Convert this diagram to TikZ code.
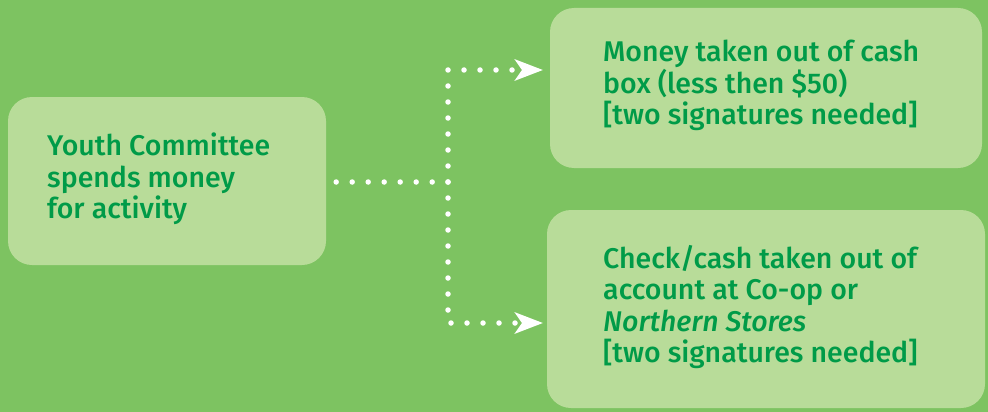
\documentclass[tikz,border=0pt]{standalone}
\usepackage{fontspec}
\setmainfont{Fira Sans}[UprightFont={* Medium}, ItalicFont={* Medium Italic}]
\usetikzlibrary{arrows.meta}
\definecolor{bggreen}{RGB}{125,195,97}
\definecolor{boxgreen}{RGB}{184,220,153}
\definecolor{txtgreen}{RGB}{0,155,72}
\tikzset{
  card/.style={fill=boxgreen, rounded corners=24pt, inner sep=0pt},
  label/.style={anchor=north west, inner sep=0pt, align=left, text=txtgreen,
    font=\fontsize{28.5}{31.5}\selectfont},
  dotline/.style={white, line width=5.5pt, line cap=round, dash pattern=on 0pt off 16pt},
  tip/.style={-{Stealth[length=28pt 0, width=21pt 0, inset=7pt 0]}},
}
\begin{document}
\begin{tikzpicture}[x=1pt,y=-1pt]
\fill[bggreen] (0,0) rectangle (988,412);
\useasboundingbox (0,0) rectangle (988,412);
% cards
\node[card, minimum width=318pt, minimum height=168pt] (box1) at (167,181) {};
\node[card, minimum width=432pt, minimum height=160pt] (box2) at (766,88) {};
\node[card, minimum width=438pt, minimum height=198pt] (box3) at (766,309) {};
% texts
\node[label] (t1) at (47,133) {Youth Committee\\spends money\\for activity};
\node[label] (t2) at (603,40) {Money taken out of cash\\box (less then \$50)\\{}[two signatures needed]};
\node[label] (t3) at (603,245) {Check/cash taken out of\\account at Co-op or\\\textit{Northern Stores}\\{}[two signatures needed]};
% connectors
\coordinate (j) at (448,182);
\coordinate (a2) at (543,70);
\coordinate (a3) at (543,323);
\draw[dotline] ([xshift=10pt]box1.east |- j) -- (j);
\draw[dotline, tip] (j) |- (a2);
\draw[dotline, tip] (j) |- (a3);
\end{tikzpicture}
\end{document}
